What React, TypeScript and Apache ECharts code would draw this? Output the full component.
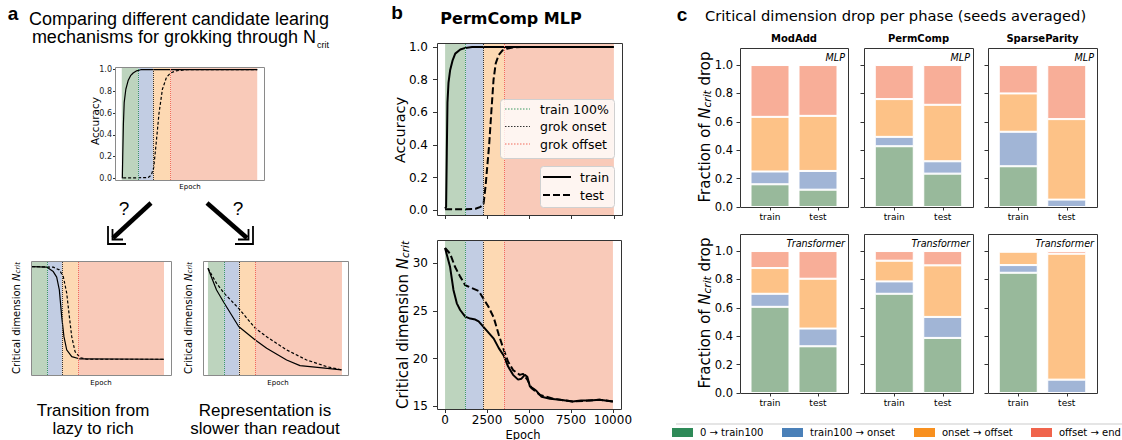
import React, { useEffect, useRef } from 'react';
import * as echarts from 'echarts';

// ---------------- data ----------------
// panel a, top schematic (accuracy)
const aTopPhases = [0, 12, 23, 36, 100];
const aTopTrainX = [0.4, 0.7, 1.2, 1.8, 3, 4.7, 6.5, 8.4, 11, 14, 100];
const aTopTrainY = [0.0, 0.2, 0.5, 0.7, 0.82, 0.9, 0.945, 0.97, 0.99, 1.0, 1.0];
const aTopTestX = [1, 10, 19.5, 21.8, 23.6, 25.6, 27.5, 30, 33, 36, 40, 48, 100];
const aTopTestY = [0.005, 0.005, 0.008, 0.03, 0.1, 0.35, 0.6, 0.82, 0.93, 0.97, 0.99, 1.0, 1.0];
const aTopYTicks = [0, 0.2, 0.4, 0.6, 0.8, 1.0];

// panel a, bottom-left schematic (lazy to rich)
const aLazyPhases = [0, 11.4, 22.7, 34.8, 100];
const aLazyTrainX = [0, 11.1, 16.1, 18.7, 20.7, 22.5, 24.2, 26.3, 30.1, 36.4, 100];
const aLazyTrainY = [1.0, 0.994, 0.946, 0.886, 0.748, 0.46, 0.244, 0.1, 0.028, 0.003, 0.0];
const aLazyTestX = [0, 16.1, 20.7, 23.7, 26.3, 28.3, 30.1, 32.6, 36.4, 41.4, 100];
const aLazyTestY = [1.0, 0.994, 0.964, 0.892, 0.713, 0.46, 0.244, 0.082, 0.017, 0.0, 0.0];

// panel a, bottom-right schematic (representation slower than readout)
const aSlowPhases = [0, 11.9, 23.1, 35.1, 100];
const aSlowTrainX = [0, 6.4, 12.1, 22.9, 35.3, 43.8, 58.7, 68.7, 83.6, 99.8];
const aSlowTrainY = [1.0, 0.787, 0.659, 0.427, 0.295, 0.213, 0.098, 0.042, 0.023, 0.0];
const aSlowTestX = [0, 6.4, 12.1, 22.9, 35.3, 43.8, 58.7, 73.6, 88.5, 99.8];
const aSlowTestY = [1.0, 0.852, 0.754, 0.606, 0.41, 0.327, 0.197, 0.098, 0.033, 0.0];

// panel b, PermComp MLP
const bPhases = [0, 1200, 2280, 3500, 10000];
const bEpochTicks = [0, 2500, 5000, 7500, 10000];
const bAccTicks = [0, 0.2, 0.4, 0.6, 0.8, 1.0];
const bNcritTicks = [15, 20, 25, 30];
const bTrainAccEpoch = [0, 60, 100, 140, 200, 300, 450, 600, 900, 1200, 1600, 10000];
const bTrainAcc = [0.01, 0.02, 0.35, 0.66, 0.78, 0.86, 0.92, 0.96, 0.985, 0.995, 1.0, 1.0];
const bTestAccEpoch = [0, 1000, 1800, 2100, 2280, 2400, 2500, 2610, 2750, 2870, 3000, 3170, 3400, 3660, 4000, 4500, 10000];
const bTestAcc = [0.005, 0.005, 0.008, 0.02, 0.04, 0.15, 0.27, 0.4, 0.62, 0.8, 0.9, 0.95, 0.98, 0.99, 0.997, 1.0, 1.0];
const bTrainNcritEpoch = [0, 150, 300, 500, 700, 900, 1200, 1500, 1800, 2000, 2300, 2600, 2900, 3200, 3500, 3750, 4050, 4350, 4550, 4750, 4900, 5050, 5300, 5450, 5750, 6250, 6850, 7600, 8100, 8600, 9200, 10000];
const bTrainNcrit = [31.6, 30.6, 29.6, 27.2, 25.8, 25.1, 24.4, 24.2, 24.1, 23.9, 23.3, 22.7, 22.1, 21.1, 20.3, 19.2, 18.3, 17.8, 17.9, 18.3, 18.1, 17.1, 16.8, 16.6, 16.0, 15.8, 15.7, 15.5, 15.6, 15.6, 15.7, 15.5];
const bTestNcritEpoch = [0, 300, 600, 900, 1200, 1600, 2000, 2280, 2600, 2900, 3200, 3500, 3750, 4050, 4450, 4650, 4900, 5150, 5650, 6450, 7600, 8500, 9200, 10000];
const bTestNcrit = [31.6, 31.0, 29.6, 28.6, 27.7, 27.4, 27.1, 26.3, 25.4, 24.3, 22.5, 20.9, 19.7, 18.8, 18.3, 18.4, 17.8, 16.9, 16.2, 15.8, 15.5, 15.6, 15.7, 15.5];

// panel c, fraction of N_crit drop per phase [0→train100, train100→onset, onset→offset, offset→end]
const cCategories = ['train', 'test'];
const cTasks = ['ModAdd', 'PermComp', 'SparseParity'];
const cModels = ['MLP', 'Transformer'];
const cPhaseNames = ['0 → train100', 'train100 → onset', 'onset → offset', 'offset → end'];
const cYTicks = [0, 0.2, 0.4, 0.6, 0.8, 1.0];
const mlpModAddTrain = [0.16, 0.09, 0.385, 0.365];
const mlpModAddTest = [0.122, 0.132, 0.388, 0.358];
const mlpPermCompTrain = [0.428, 0.066, 0.266, 0.24];
const mlpPermCompTest = [0.235, 0.087, 0.398, 0.28];
const mlpSparseParityTrain = [0.287, 0.243, 0.27, 0.2];
const mlpSparseParityTest = [0.0, 0.052, 0.567, 0.381];
const trfModAddTrain = [0.607, 0.092, 0.181, 0.12];
const trfModAddTest = [0.329, 0.125, 0.351, 0.195];
const trfPermCompTrain = [0.699, 0.087, 0.146, 0.068];
const trfPermCompTest = [0.388, 0.148, 0.363, 0.101];
const trfSparseParityTrain = [0.847, 0.054, 0.094, 0.005];
const trfSparseParityTest = [0.0, 0.094, 0.887, 0.019];

// ---------------- styling ----------------
const shadeColors = ['#bdd4be', '#c2cde3', '#fdd9b3', '#f9cab9'];
const boundaryColors = ['#3d9a63', '#333333', '#f26b5b'];
const barColors = ['#98b99b', '#a1b5d6', '#fdc287', '#f8ae98'];
const legendColors = ['#2e8a58', '#4a80b8', '#f8901f', '#f0644c'];
const MPL = 'DejaVu Sans';
const HEL = 'Liberation Sans';

// axes frames [left, top, width, height]
const boxes: number[][] = [
  [115, 67, 149, 113], // a top
  [31, 261, 140, 114], // a lazy
  [203, 261, 145, 114], // a slow
  [437, 43, 185, 172], // b top
  [437, 240, 184, 169], // b bottom
];
const cLefts = [740, 864, 988];
const cWidths = [108, 109, 109];
const cTops = [48, 234];
const cH = 159;
const cInset = 6;
cTops.forEach((t) => cLefts.forEach((l, i) => boxes.push([l, t, cWidths[i], cH])));

const zip = (xs: number[], ys: number[]) => xs.map((x, i) => [x, ys[i]]);

function phaseSeries(idx: number, phases: number[], data: number[][]) {
  return {
    type: 'line', xAxisIndex: idx, yAxisIndex: idx, data, symbol: 'none', silent: true, z: 1,
    lineStyle: { opacity: 0 },
    markArea: {
      silent: true,
      data: phases.slice(0, -1).map((p, i) => [
        { xAxis: p, itemStyle: { color: shadeColors[i], opacity: 1 } },
        { xAxis: phases[i + 1] },
      ]),
    },
    markLine: {
      silent: true, symbol: ['none', 'none'], label: { show: false },
      data: phases.slice(1, -1).map((p, i) => ({ xAxis: p, lineStyle: { color: boundaryColors[i], type: 'dotted', width: 1, opacity: 1 } })),
    },
  };
}

function lineSeries(idx: number, xs: number[], ys: number[], dashed: boolean, width: number, dash: number[]) {
  return {
    type: 'line', xAxisIndex: idx, yAxisIndex: idx, data: zip(xs, ys), symbol: 'none', silent: true, z: 3,
    lineStyle: { color: '#000', width, type: dashed ? dash : 'solid' },
  };
}

const hidden = { axisLine: { show: false, onZero: false }, axisTick: { show: false }, axisLabel: { show: false }, splitLine: { show: false } };

function txt(x: number, y: number, text: string, o: any = {}, rot = 0) {
  return {
    type: 'text', x, y, rotation: rot, silent: true, z: 200,
    style: {
      text, fill: '#000', fontFamily: MPL, fontSize: 12,
      align: 'center', verticalAlign: 'middle', textAlign: 'center', textVerticalAlign: 'middle', ...o,
    },
  };
}

function ncritLabel(x: number, y: number, prefix: string, suffix: string, fs: number, sub: number) {
  return txt(x, y, `{a|${prefix}}{n|N}{s|crit}{a|${suffix}}`, {
    fontSize: fs,
    rich: {
      a: { fontSize: fs, fontFamily: MPL, fill: '#000' },
      n: { fontSize: fs, fontFamily: MPL, fontStyle: 'italic', fill: '#000' },
      s: { fontSize: sub, fontFamily: MPL, fontStyle: 'italic', fill: '#000', verticalAlign: 'bottom', lineHeight: sub * 0.5 },
    },
  }, Math.PI / 2);
}

function line(x1: number, y1: number, x2: number, y2: number, o: any = {}) {
  return { type: 'line', silent: true, z: 200, shape: { x1, y1, x2, y2 }, style: { stroke: '#000', lineWidth: 1, ...o } };
}
function poly(points: number[][], w: number) {
  return { type: 'polyline', silent: true, z: 200, shape: { points }, style: { stroke: '#000', lineWidth: w, fill: 'none', lineJoin: 'miter' } };
}

export default function App() {
  const ref = useRef<HTMLDivElement>(null);
  useEffect(() => {
    if (!ref.current) return;
    const chart = echarts.init(ref.current, undefined, { renderer: 'svg' });

    const grid = boxes.map(([left, top, width, height], i) =>
      i < 5 ? { left, top, width, height } : { left: left + cInset, top, width: width - 2 * cInset, height });

    const tick = (len: number, vals: number[]) => ({ show: true, length: len, customValues: vals, lineStyle: { color: '#333', width: 1 } });

    const xAxis: any[] = [
      { gridIndex: 0, type: 'value', min: -5, max: 105, ...hidden },
      { gridIndex: 1, type: 'value', min: -0.76, max: 105.3, ...hidden },
      { gridIndex: 2, type: 'value', min: -3.7, max: 104.5, ...hidden },
      { gridIndex: 3, type: 'value', min: -480, max: 10480, ...hidden, axisTick: tick(4, bEpochTicks) },
      {
        gridIndex: 4, type: 'value', min: -480, max: 10480, ...hidden, axisTick: tick(4, bEpochTicks),
        axisLabel: { show: true, customValues: bEpochTicks, fontSize: 12, margin: 5, color: '#000', fontFamily: MPL, formatter: (v: number) => String(v) },
      },
    ];
    const yAxis: any[] = [
      {
        gridIndex: 0, type: 'value', min: -0.015, max: 1.025, ...hidden, axisTick: tick(2, aTopYTicks),
        axisLabel: { show: true, customValues: aTopYTicks, fontSize: 8, margin: 3, color: '#222', fontFamily: MPL, formatter: (v: number) => v.toFixed(1) },
      },
      { gridIndex: 1, type: 'value', min: -0.17, max: 1.06, ...hidden },
      { gridIndex: 2, type: 'value', min: -0.05, max: 1.072, ...hidden },
      {
        gridIndex: 3, type: 'value', min: -0.03, max: 1.025, ...hidden, axisTick: tick(4, bAccTicks),
        axisLabel: { show: true, customValues: bAccTicks, fontSize: 12, margin: 9, color: '#000', fontFamily: MPL, formatter: (v: number) => v.toFixed(1) },
      },
      {
        gridIndex: 4, type: 'value', min: 14.72, max: 32.44, ...hidden, axisTick: tick(4, bNcritTicks),
        axisLabel: { show: true, customValues: bNcritTicks, fontSize: 12, margin: 9, color: '#000', fontFamily: MPL, formatter: (v: number) => String(v) },
      },
    ];
    for (let g = 5; g < 11; g++) {
      const col = (g - 5) % 3;
      xAxis.push({
        gridIndex: g, type: 'category', data: cCategories, boundaryGap: true,
        axisLine: { show: false, onZero: false }, splitLine: { show: false },
        axisTick: { show: true, alignWithLabel: true, length: 3.5, lineStyle: { color: '#333', width: 1 } },
        axisLabel: { show: true, fontSize: 9, margin: 5, color: '#000', fontFamily: MPL },
      });
      yAxis.push({
        gridIndex: g, type: 'value', min: 0, max: 1.12, offset: cInset, ...hidden, axisTick: tick(3.5, cYTicks),
        axisLabel: { show: col === 0, customValues: cYTicks, fontSize: 11.5, margin: 7, color: '#000', fontFamily: MPL, formatter: (v: number) => v.toFixed(1) },
      });
    }

    const series: any[] = [
      phaseSeries(0, aTopPhases, zip(aTopTrainX, aTopTrainY)),
      lineSeries(0, aTopTrainX, aTopTrainY, false, 1.2, [3, 2]),
      lineSeries(0, aTopTestX, aTopTestY, true, 1.2, [3, 2]),
      phaseSeries(1, aLazyPhases, zip(aLazyTrainX, aLazyTrainY)),
      lineSeries(1, aLazyTrainX, aLazyTrainY, false, 1.2, [3, 2]),
      lineSeries(1, aLazyTestX, aLazyTestY, true, 1.2, [3, 2]),
      phaseSeries(2, aSlowPhases, zip(aSlowTrainX, aSlowTrainY)),
      lineSeries(2, aSlowTrainX, aSlowTrainY, false, 1.2, [3, 2]),
      lineSeries(2, aSlowTestX, aSlowTestY, true, 1.2, [3, 2]),
      phaseSeries(3, bPhases, zip(bTrainAccEpoch, bTrainAcc)),
      lineSeries(3, bTrainAccEpoch, bTrainAcc, false, 2, [7, 3]),
      lineSeries(3, bTestAccEpoch, bTestAcc, true, 2, [7, 3]),
      phaseSeries(4, bPhases, zip(bTrainNcritEpoch, bTrainNcrit)),
      lineSeries(4, bTrainNcritEpoch, bTrainNcrit, false, 2, [7, 3]),
      lineSeries(4, bTestNcritEpoch, bTestNcrit, true, 2, [7, 3]),
    ];

    const cData = [
      [[mlpModAddTrain, mlpModAddTest], [mlpPermCompTrain, mlpPermCompTest], [mlpSparseParityTrain, mlpSparseParityTest]],
      [[trfModAddTrain, trfModAddTest], [trfPermCompTrain, trfPermCompTest], [trfSparseParityTrain, trfSparseParityTest]],
    ];
    cData.forEach((row, r) => row.forEach(([tr, te], t) => {
      const g = 5 + r * 3 + t;
      cPhaseNames.forEach((name, p) => {
        series.push({
          type: 'bar', name, xAxisIndex: g, yAxisIndex: g, stack: 's' + g, barWidth: 39, silent: true,
          data: [tr[p], te[p]],
          itemStyle: { color: barColors[p], borderColor: '#ffffff', borderWidth: 1 },
        });
      });
    }));

    const graphic: any[] = [];
    // axes frames
    boxes.forEach(([l, t, w, h], i) => {
      graphic.push({
        type: 'rect', silent: true, z: 150,
        shape: { x: l + 0.5, y: t + 0.5, width: w, height: h },
        style: { fill: 'none', stroke: i < 3 ? '#8a8a8a' : '#333', lineWidth: 1 },
      });
    });

    // ---- panel a ----
    graphic.push(txt(13, 13, 'a', { fontFamily: HEL, fontWeight: 'bold', fontSize: 19 }));
    graphic.push(txt(179, 19, 'Comparing different candidate learing', { fontFamily: HEL, fontSize: 18 }));
    graphic.push(txt(316, 37, 'mechanisms for grokking through N', { fontFamily: HEL, fontSize: 18, align: 'right', textAlign: 'right' }));
    graphic.push(txt(317, 45, 'crit', { fontFamily: HEL, fontSize: 9, align: 'left', textAlign: 'left' }));
    graphic.push(txt(95, 121, 'Accuracy', { fontSize: 10.5 }, Math.PI / 2));
    graphic.push(txt(190, 187, 'Epoch', { fontSize: 7 }));
    graphic.push(ncritLabel(16, 318, 'Critical dimension ', '', 10, 7));
    graphic.push(txt(101, 383, 'Epoch', { fontSize: 7 }));
    graphic.push(ncritLabel(188, 318, 'Critical dimension ', '', 10, 7));
    graphic.push(txt(278, 383, 'Epoch', { fontSize: 7 }));
    graphic.push(txt(124, 208, '?', { fontFamily: HEL, fontSize: 19 }));
    graphic.push(txt(238, 208, '?', { fontFamily: HEL, fontSize: 19 }));
    // arrows
    graphic.push(line(151, 203, 113, 238, { lineWidth: 4.5 }));
    graphic.push(poly([[108, 226], [108, 244], [126, 244]], 1.8));
    graphic.push(poly([[112.5, 229], [112.5, 239.5], [123, 239.5]], 1.8));
    graphic.push(line(207, 203, 247, 238, { lineWidth: 4.5 }));
    graphic.push(poly([[253, 226], [253, 244], [235, 244]], 1.8));
    graphic.push(poly([[248.5, 229], [248.5, 239.5], [238, 239.5]], 1.8));
    graphic.push(txt(93, 410, 'Transition from', { fontFamily: HEL, fontSize: 17 }));
    graphic.push(txt(93, 428, 'lazy to rich', { fontFamily: HEL, fontSize: 17 }));
    graphic.push(txt(265, 410, 'Representation is', { fontFamily: HEL, fontSize: 17 }));
    graphic.push(txt(265, 428, 'slower than readout', { fontFamily: HEL, fontSize: 17 }));

    // ---- panel b ----
    graphic.push(txt(397, 12, 'b', { fontFamily: HEL, fontWeight: 'bold', fontSize: 19 }));
    graphic.push(txt(511, 18, 'PermComp MLP', { fontWeight: 'bold', fontSize: 16 }));
    graphic.push(txt(400, 130, 'Accuracy', { fontSize: 14.5 }, Math.PI / 2));
    graphic.push(ncritLabel(403, 325, 'Critical dimension ', '', 15, 10.5));
    graphic.push(txt(523, 434.5, 'Epoch', { fontSize: 11.5 }));
    // legends
    graphic.push({ type: 'rect', silent: true, z: 180, shape: { x: 500.5, y: 99.5, width: 114, height: 59, r: 3 }, style: { fill: 'rgba(255,255,255,0.8)', stroke: '#d0d0d0', lineWidth: 1 } });
    ['train 100%', 'grok onset', 'grok offset'].forEach((s, i) => {
      const y = 109 + i * 17.5;
      graphic.push(line(505, y, 530, y, { stroke: boundaryColors[i], lineDash: [1.5, 1.5], lineWidth: 1 }));
      graphic.push(txt(540, y, s, { fontSize: 12.5, align: 'left', textAlign: 'left' }));
    });
    graphic.push({ type: 'rect', silent: true, z: 180, shape: { x: 540.5, y: 166.5, width: 74, height: 41, r: 3 }, style: { fill: 'rgba(255,255,255,0.8)', stroke: '#d0d0d0', lineWidth: 1 } });
    graphic.push(line(543, 177, 571, 177, { lineWidth: 2 }));
    graphic.push(txt(580, 177, 'train', { fontSize: 12.5, align: 'left', textAlign: 'left' }));
    graphic.push(line(543, 195, 571, 195, { lineWidth: 2, lineDash: [7, 3] }));
    graphic.push(txt(580, 195, 'test', { fontSize: 12.5, align: 'left', textAlign: 'left' }));

    // ---- panel c ----
    graphic.push(txt(682, 14, 'c', { fontFamily: HEL, fontWeight: 'bold', fontSize: 19 }));
    graphic.push(txt(705, 15, 'Critical dimension drop per phase (seeds averaged)', { fontSize: 14.7, align: 'left', textAlign: 'left' }));
    cTasks.forEach((task, i) => {
      graphic.push(txt(cLefts[i] + cWidths[i] / 2, 38, task, { fontWeight: 'bold', fontSize: 10 }));
      cModels.forEach((m, r) => {
        graphic.push(txt(cLefts[i] + cWidths[i] - 3, cTops[r] + 9, m, { fontStyle: 'italic', fontSize: 9.6, align: 'right', textAlign: 'right' }));
      });
    });
    cTops.forEach((t) => graphic.push(ncritLabel(705, t + 79, 'Fraction of ', ' drop', 15, 10.5)));
    // legend
    graphic.push(line(676, 424, 1122, 424, { stroke: '#dddddd', lineWidth: 1.5 }));
    const legX = [672, 782, 914, 1031];
    cPhaseNames.forEach((name, i) => {
      graphic.push({ type: 'rect', silent: true, z: 200, shape: { x: legX[i], y: 428, width: 21, height: 9 }, style: { fill: legendColors[i] } });
      graphic.push(txt(legX[i] + 28, 432.5, name, { fontSize: 10, align: 'left', textAlign: 'left' }));
    });

    chart.setOption({
      animation: false,
      textStyle: { fontFamily: MPL },
      grid, xAxis, yAxis, series, graphic,
    });
    return () => chart.dispose();
  }, []);
  return <div ref={ref} style={{ position: 'absolute', left: 0, top: 0, width: 1122, height: 440, background: '#fff' }} />;
}
